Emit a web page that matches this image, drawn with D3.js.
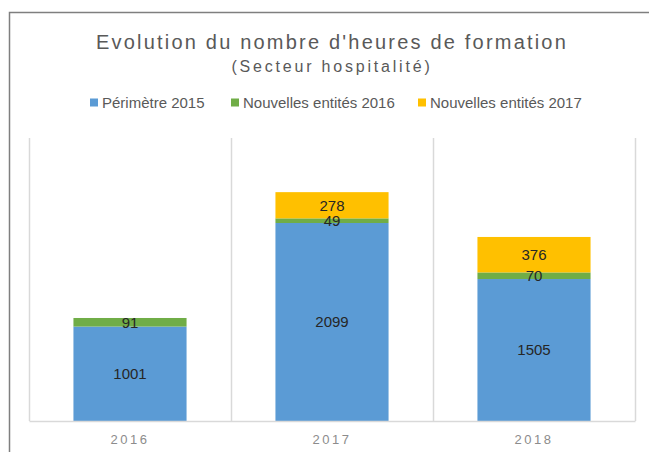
<!DOCTYPE html>
<html><head><meta charset="utf-8">
<script src="https://cdn.jsdelivr.net/npm/d3@7"></script>
<style>
html,body{margin:0;padding:0;background:#fff;}
svg{display:block;font-family:"Liberation Sans",Arial,sans-serif;}
</style></head>
<body>
<svg id="chart" width="649" height="452"></svg>
<script>
const categories = ["2016", "2017", "2018"];
const seriesNames = ["Périmètre 2015", "Nouvelles entités 2016", "Nouvelles entités 2017"];
const perimetre2015 = [1001, 2099, 1505];
const nouvelles2016 = [91, 49, 70];
const nouvelles2017 = [null, 278, 376];
const colors = ["#5B9BD5", "#70AD47", "#FFC000"];
const titleText = "Evolution du nombre d'heures de formation";
const subtitleText = "(Secteur hospitalité)";

const svg = d3.select("#chart");
const W = 649, H = 452;

// outer chart border (cropped at right/bottom)
svg.append("path").attr("d", `M9.5,${H} V12.5 H${W}`)
  .attr("fill", "none").attr("stroke", "#7f7f7f").attr("stroke-width", 1.5);

const plot = {left: 29, right: 635, top: 138, bottom: 421};

const data = categories.map((c, i) => ({
  cat: c, s0: perimetre2015[i] || 0, s1: nouvelles2016[i] || 0, s2: nouvelles2017[i] || 0
}));
const keys = ["s0", "s1", "s2"];
const raw = [perimetre2015, nouvelles2016, nouvelles2017];
const stack = d3.stack().keys(keys)(data);

const x = d3.scaleBand().domain(categories).range([plot.left, plot.right])
  .paddingInner(0.44).paddingOuter(0.22);
const xOuter = d3.scaleBand().domain(categories).range([plot.left, plot.right]);
const y = d3.scaleLinear().domain([0, 3000]).range([plot.bottom, plot.top]);

// vertical category separators
const seps = [plot.left].concat(categories.map(c => xOuter(c) + xOuter.bandwidth()));
svg.append("g").selectAll("line").data(seps).join("line")
  .attr("x1", d => Math.round(d) + 0.5).attr("x2", d => Math.round(d) + 0.5)
  .attr("y1", plot.top).attr("y2", plot.bottom)
  .attr("stroke", "#d9d9d9").attr("stroke-width", 1.5);

// bars
stack.forEach((layer, li) => {
  const g = svg.append("g").attr("fill", colors[li]);
  g.selectAll("rect").data(layer.filter(d => d[1] - d[0] > 0)).join("rect")
    .attr("x", d => x(d.data.cat))
    .attr("width", x.bandwidth())
    .attr("y", d => y(d[1]))
    .attr("height", d => y(d[0]) - y(d[1]));
});

// value labels
stack.forEach((layer, li) => {
  svg.append("g").selectAll("text").data(layer.filter((d, i) => raw[li][i] != null)).join("text")
    .attr("x", d => x(d.data.cat) + x.bandwidth() / 2)
    .attr("y", d => (y(d[0]) + y(d[1])) / 2)
    .attr("dy", "0.36em")
    .attr("text-anchor", "middle")
    .attr("font-size", 15).attr("fill", "#262626")
    .text((d, i) => d[1] - d[0]);
});

// baseline axis
const xAxis = d3.axisBottom(xOuter).tickSize(0).tickPadding(14);
const ax = svg.append("g").attr("transform", `translate(0,${plot.bottom})`).call(xAxis);
ax.select(".domain").attr("stroke", "#d9d9d9").attr("stroke-width", 1.5);
ax.selectAll("text").attr("font-size", 13).attr("fill", "#8c8c8c")
  .attr("font-family", "Liberation Sans, Arial, sans-serif").attr("letter-spacing", "2.5px");

// title
svg.append("text").attr("x", 332).attr("y", 49).attr("text-anchor", "middle")
  .attr("font-size", 20).attr("fill", "#595959").attr("letter-spacing", "2.2px").text(titleText);
svg.append("text").attr("x", 332).attr("y", 72).attr("text-anchor", "middle")
  .attr("font-size", 16).attr("fill", "#595959").attr("letter-spacing", "2.8px").text(subtitleText);

// legend
const legendX = [90, 231, 418];
const lg = svg.append("g");
seriesNames.forEach((name, i) => {
  lg.append("rect").attr("x", legendX[i]).attr("y", 98.5).attr("width", 8).attr("height", 8).attr("fill", colors[i]);
  lg.append("text").attr("x", legendX[i] + 12).attr("y", 108)
    .attr("font-size", 15).attr("fill", "#595959").text(name);
});
</script>
</body></html>
